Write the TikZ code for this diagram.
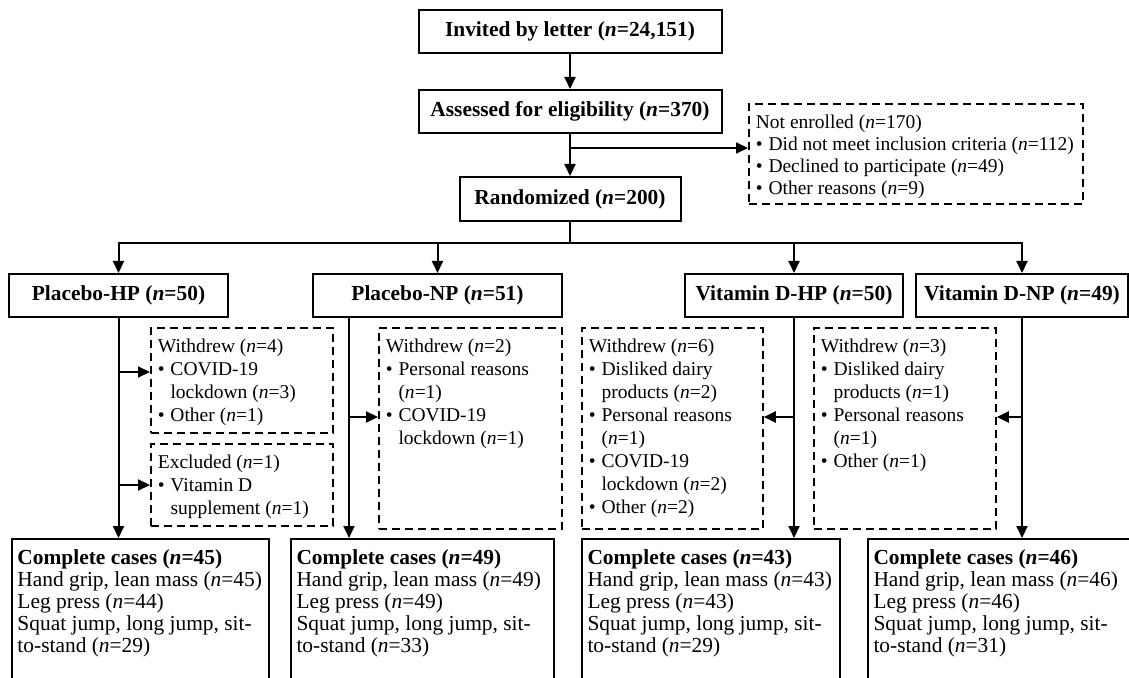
\documentclass[tikz,border=0pt]{standalone}
\usepackage{fontspec}
\setmainfont{Liberation Serif}
\usetikzlibrary{arrows.meta, positioning}
\newcommand{\nn}[1]{(\textit{n}=#1)}
\newcommand{\bitem}{\par\hangindent=6.3pt\hangafter=1\noindent\makebox[6.3pt][l]{\textbullet}}
\newcommand{\boxtext}[3]{\parbox[c][#2][t]{#1}{\raggedright #3}}
\tikzset{
  hbox/.style={draw, line width=1pt, inner sep=0pt, minimum height=21.5pt, font=\fontsize{10.7}{13}\selectfont\bfseries},
  dbox/.style={draw, line width=0.9pt, dash pattern=on 4pt off 2.5pt, anchor=north west, inner xsep=3.5pt, inner ysep=5.5pt, font=\fontsize{9.75}{11.5}\selectfont},
  cbox/.style={draw, line width=1pt, anchor=north west, inner xsep=2.75pt, inner ysep=5.2pt, font=\fontsize{10.7}{11}\selectfont},
  arr/.style={line width=1pt, -{Triangle[length=6pt,width=5.5pt]}}
}
\begin{document}
\begin{tikzpicture}[x=0.5pt, y=-0.5pt]
        \useasboundingbox (0,0) rectangle (1129,678);
        % enrolment
        \node[hbox, minimum width=151.5pt] (invited) at (570,31.5) {Invited by letter \nn{24,151}};
        \node[hbox, minimum width=151.5pt] (assessed) at (570,111.5) {Assessed for eligibility \nn{370}};
        \node[hbox, minimum width=110.5pt, minimum height=22pt] (random) at (570,199) {Randomized \nn{200}};
        \node[dbox, font=\fontsize{9.75}{11}\selectfont] (notenr) at (748,103) {\boxtext{160pt}{39pt}{Not enrolled \nn{170}\bitem Did not meet inclusion criteria \nn{112}\bitem Declined to participate \nn{49}\bitem Other reasons \nn{9}}};
        % groups
        \node[hbox, minimum width=109.5pt] (php) at (118.5,295.5) {Placebo-HP \nn{50}};
        \node[hbox, minimum width=124.5pt] (pnp) at (437.5,295.5) {Placebo-NP \nn{51}};
        \node[hbox, minimum width=109pt] (vhp) at (794,295.5) {Vitamin D-HP \nn{50}};
        \node[hbox, minimum width=106pt] (vnp) at (1022,295.5) {Vitamin D-NP \nn{49}};
        % losses
        \node[dbox] (hpw) at (150,327) {\boxtext{84pt}{41.5pt}{Withdrew \nn{4}\bitem COVID-19\newline lockdown \nn{3}\bitem Other \nn{1}}};
        \node[dbox] (hpe) at (150,443) {\boxtext{84pt}{30pt}{Excluded \nn{1}\bitem Vitamin D\newline supplement \nn{1}}};
        \node[dbox] (pnpw) at (378,327) {\boxtext{84.5pt}{89.5pt}{Withdrew \nn{2}\bitem Personal reasons\newline \nn{1}\bitem COVID-19\newline lockdown \nn{1}}};
        \node[dbox] (vhpw) at (581,327) {\boxtext{83.5pt}{89.5pt}{Withdrew \nn{6}\bitem Disliked dairy\newline products \nn{2}\bitem Personal reasons\newline \nn{1}\bitem COVID-19\newline lockdown \nn{2}\bitem Other \nn{2}}};
        \node[dbox] (vnpw) at (813,327) {\boxtext{84pt}{89.5pt}{Withdrew \nn{3}\bitem Disliked dairy\newline products \nn{1}\bitem Personal reasons\newline \nn{1}\bitem Other \nn{1}}};
        % analysed
        \node[cbox] (hpc) at (11,538) {\boxtext{123pt}{70pt}{\textbf{Complete cases \nn{45}}\newline Hand grip, lean mass \nn{45}\newline Leg press \nn{44}\newline Squat jump, long jump, sit-\newline to-stand \nn{29}}};
        \node[cbox] (npc) at (290,538) {\boxtext{126pt}{70pt}{\textbf{Complete cases \nn{49}}\newline Hand grip, lean mass \nn{49}\newline Leg press \nn{49}\newline Squat jump, long jump, sit-\newline to-stand \nn{33}}};
        \node[cbox] (vhpc) at (581,538) {\boxtext{123.5pt}{70pt}{\textbf{Complete cases \nn{43}}\newline Hand grip, lean mass \nn{43}\newline Leg press \nn{43}\newline Squat jump, long jump, sit-\newline to-stand \nn{29}}};
        \node[cbox] (vnpc) at (867,538) {\boxtext{129.5pt}{70pt}{\textbf{Complete cases \nn{46}}\newline Hand grip, lean mass \nn{46}\newline Leg press \nn{46}\newline Squat jump, long jump, sit-\newline to-stand \nn{31}}};
        % flow
        \draw[arr] (invited) -- (assessed);
        \draw[arr] (assessed) -- (random);
        \coordinate (netap) at (570,148);
        \draw[arr] (netap) -- (netap -| notenr.west);
        \coordinate (split) at (570,243);
        \draw[line width=1pt] (random) -- (split);
        \draw[arr] (split) -| (php);
        \draw[arr] (split) -| (pnp);
        \draw[arr] (split) -| (vhp);
        \draw[arr] (split) -| (vnp);
        \coordinate (hpwtap) at (118.5,372);
        \coordinate (hpetap) at (118.5,485);
        \coordinate (pnptap) at (349,417);
        \coordinate (vhptap) at (794,417);
        \coordinate (vnptap) at (1022,417);
        \draw[arr] (hpwtap) -- (hpwtap -| hpw.west);
        \draw[arr] (hpetap) -- (hpetap -| hpe.west);
        \draw[arr] (pnptap) -- (pnptap -| pnpw.west);
        \draw[arr] (vhptap) -- (vhptap -| vhpw.east);
        \draw[arr] (vnptap) -- (vnptap -| vnpw.east);
        \draw[arr] (php.south) -- (php.south |- hpc.north);
        \draw[arr] (pnptap |- pnp.south) -- (pnptap |- npc.north);
        \draw[arr] (vhp.south) -- (vhp.south |- vhpc.north);
        \draw[arr] (vnp.south) -- (vnp.south |- vnpc.north);
      \end{tikzpicture}
\end{document}
